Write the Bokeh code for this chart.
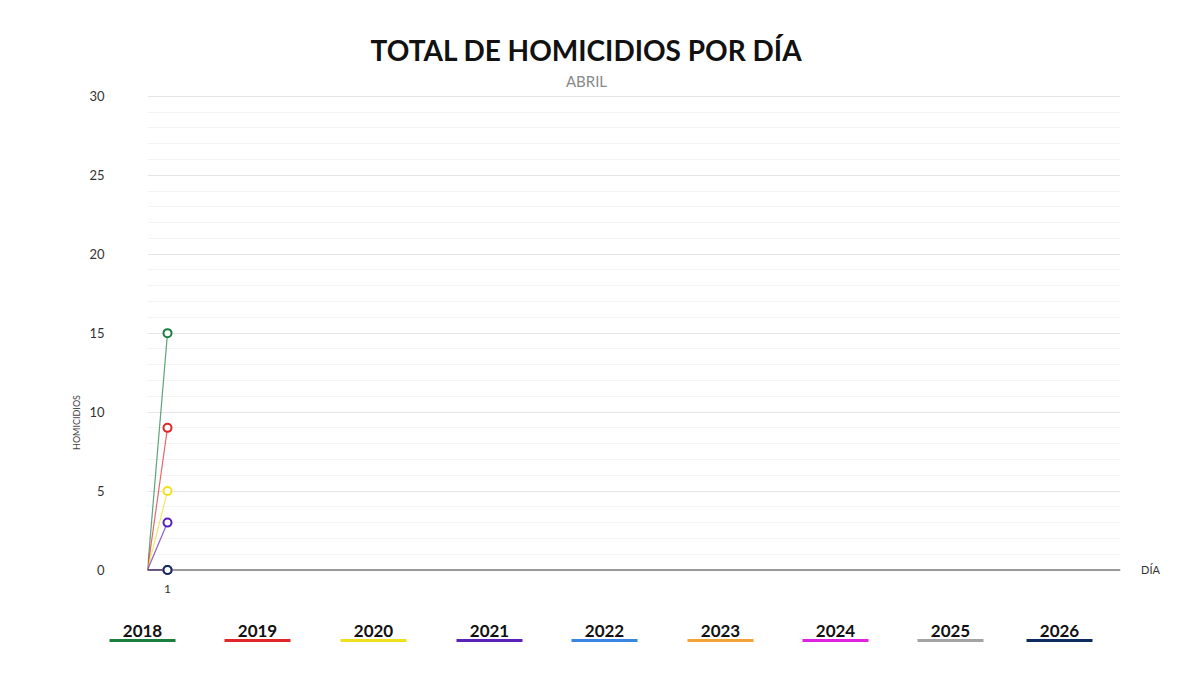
from bokeh.plotting import figure
from bokeh.layouts import column, row
from bokeh.models import Range1d, FixedTicker, ColumnDataSource, Span
from bokeh.embed import file_html
from bokeh.resources import INLINE
from bokeh.core.properties import value

# ---------------- data ----------------
dias = [0, 1]
anios = ["2018", "2019", "2020", "2021", "2022", "2023", "2024", "2025", "2026"]
h_2018 = [0, 15]
h_2019 = [0, 9]
h_2020 = [0, 5]
h_2021 = [0, 3]
h_2022 = [0, 0]
h_2023 = [0, 0]
h_2024 = [0, 0]
h_2025 = [0, 0]
h_2026 = [0, 0]
series = [h_2018, h_2019, h_2020, h_2021, h_2022, h_2023, h_2024, h_2025, h_2026]
colores = ["#1a7f3e", "#e0262b", "#f0df1e", "#5a22b8", "#3a84e2",
           "#f0a232", "#e021e0", "#a3a3a3", "#0f2a5e"]
y_ticks = [0, 5, 10, 15, 20, 25, 30]
x_ticks = [1]

titulo = "TOTAL DE HOMICIDIOS POR DÍA"
subtitulo = "ABRIL"
eje_y = "HOMICIDIOS"
eje_x = "DÍA"

FONT = "Lato"
W = 1184


def blank(width, height, xr, yr):
    f = figure(width=width, height=height, x_range=Range1d(*xr), y_range=Range1d(*yr),
               output_backend="svg", toolbar_location=None, min_border=0,
               outline_line_color=None, x_axis_location=None, y_axis_location=None,
               title_location=None, frame_align=False)
    f.grid.visible = False
    return f


# ---------------- header (page y 0..88) ----------------
head = blank(W, 88, (0, W), (0, 88))
head.text(x=[586], y=[39], text=[titulo], text_font=value(FONT), text_font_size="28px",
          text_font_style="bold", text_color="#111111", text_align="center",
          text_baseline="middle")
head.text(x=[586], y=[8], text=[subtitulo], text_font=value(FONT), text_font_size="15px",
          text_color="#888888", text_align="center", text_baseline="middle")

# ---------------- left strip: y axis title ----------------
H = 518
left = blank(82, H, (0, 82), (0, H))
left.text(x=[76], y=[H + 88 - 422], text=[eje_y], text_font=value(FONT),
          text_font_size="9px", text_color="#444444", text_align="center",
          text_baseline="middle", angle=1.5708)

# ---------------- main plot ----------------
p = figure(width=1046, height=H, x_range=Range1d(0, 48.65), y_range=Range1d(-0.35, 30.05),
           output_backend="svg", toolbar_location=None, title_location=None,
           min_border_left=65, min_border_right=8, min_border_top=7,
           min_border_bottom=31, outline_line_color=None, frame_align=False)

p.xgrid.visible = False
p.ygrid.grid_line_color = "#e6e6e6"
p.ygrid.grid_line_width = 1
p.ygrid.minor_grid_line_color = "#f4f4f4"

p.yaxis.ticker = FixedTicker(ticks=y_ticks, minor_ticks=list(range(1, 30)))
p.yaxis.axis_line_color = None
p.yaxis.major_tick_line_color = None
p.yaxis.minor_tick_line_color = None
p.yaxis.major_label_standoff = 37
p.yaxis.major_label_text_font = FONT
p.yaxis.major_label_text_font_size = "13px"
p.yaxis.major_label_text_color = "#333333"

p.xaxis.ticker = FixedTicker(ticks=x_ticks)
p.xaxis.axis_line_color = None
p.xaxis.major_tick_line_color = None
p.xaxis.minor_tick_line_color = None
p.xaxis.major_label_standoff = 3
p.xaxis.major_label_text_font = FONT
p.xaxis.major_label_text_font_size = "12px"
p.xaxis.major_label_text_color = "#333333"

p.add_layout(Span(location=0, dimension="width", line_color="#9a9a9a", line_width=2,
                  level="underlay"))

for vals, col in zip(series, colores):
    p.line(dias, vals, line_color=col, line_width=1.2, line_alpha=0.7)
for vals, col in zip(series, colores):
    p.scatter(dias[1:], vals[1:], size=8, line_color=col, line_width=2,
              fill_color="white", marker="circle")

# ---------------- right strip: x axis title ----------------
right = blank(56, H, (1128, 1184), (0, H))
right.text(x=[1150], y=[H + 88 - 569], text=[eje_x], text_font=value(FONT),
           text_font_size="11px", text_color="#333333", text_align="center",
           text_baseline="middle")

# ---------------- legend (page y 606..659) ----------------
leg_x = [142, 257, 373, 489, 604, 720, 835, 950, 1059]
leg = blank(W, 53, (0, W), (0, 53))
src = ColumnDataSource(dict(x=leg_x, x0=[v - 33 for v in leg_x], x1=[v + 33 for v in leg_x],
                            y=[29] * len(leg_x), yl=[19] * len(leg_x), t=anios, c=colores))
leg.segment(x0="x0", y0="yl", x1="x1", y1="yl", line_color="c", line_width=3, source=src)
leg.text(x="x", y="y", text="t", text_font=value(FONT), text_font_size="17px",
         text_font_style="bold", text_color="#111111", text_align="center",
         text_baseline="middle", source=src)

layout = column(head, row(left, p, right, spacing=0), leg, spacing=0)
open("out.html", "w").write(file_html(layout, INLINE))
